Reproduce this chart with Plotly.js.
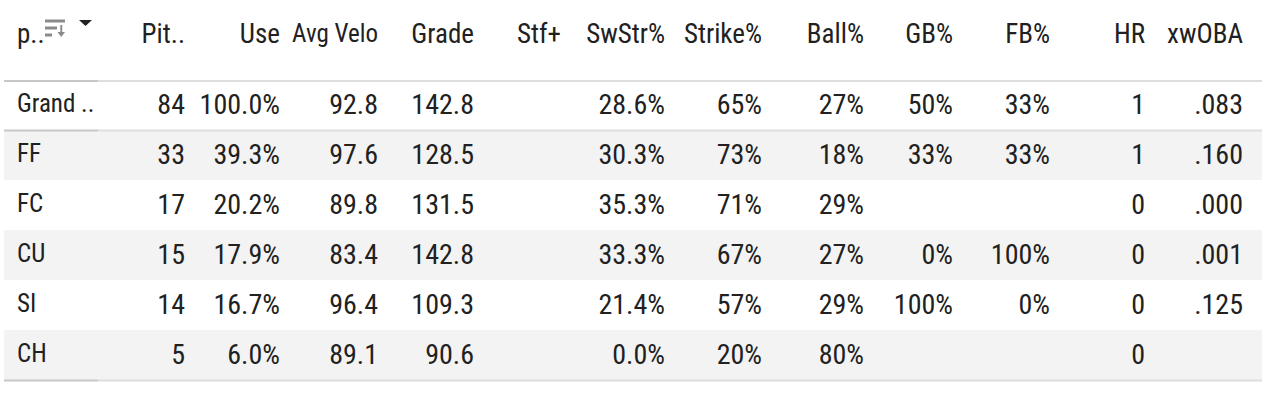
<!DOCTYPE html>
<html>
<head>
<meta charset="utf-8">
<script src="https://cdn.plot.ly/plotly-3.0.1.min.js"></script>
<style>html,body{margin:0;padding:0;background:#fff;}#chart{width:1262px;height:400px;}</style>
</head>
<body>
<div id="chart"></div>
<script>
// ---- data ----
const pitchTypes = ['Grand ..', 'FF', 'FC', 'CU', 'SI', 'CH'];
const pitches    = [84, 33, 17, 15, 14, 5];
const usePct     = [100.0, 39.3, 20.2, 17.9, 16.7, 6.0];
const avgVelo    = [92.8, 97.6, 89.8, 83.4, 96.4, 89.1];
const grade      = [142.8, 128.5, 131.5, 142.8, 109.3, 90.6];
const stuffPlus  = [null, null, null, null, null, null];
const swStrPct   = [28.6, 30.3, 35.3, 33.3, 21.4, 0.0];
const strikePct  = [65, 73, 71, 67, 57, 20];
const ballPct    = [27, 18, 29, 27, 29, 80];
const gbPct      = [50, 33, null, 0, 100, null];
const fbPct      = [33, 33, null, 100, 0, null];
const homeRuns   = [1, 1, 0, 0, 0, 0];
const xwOBA      = [0.083, 0.160, 0.000, 0.001, 0.125, null];
const headers = ['p..', 'Pit..', 'Use', 'Avg Velo', 'Grade', 'Stf+', 'SwStr%', 'Strike%', 'Ball%', 'GB%', 'FB%', 'HR', 'xwOBA'];

// ---- formatting helpers ----
const NB = '\u00a0';
const nb = s => String(s).replace(/ /g, NB);
const fmt = (arr, f) => arr.map(v => (v === null || v === undefined) ? '' : f(v));
const pct1 = v => v.toFixed(1) + '%';
const pct0 = v => v.toFixed(0) + '%';
const num1 = v => v.toFixed(1);
const int0 = v => String(v);
const woba = v => v.toFixed(3).replace(/^0/, '');

const columns = [
  pitchTypes.map(nb),
  fmt(pitches, int0),
  fmt(usePct, pct1),
  fmt(avgVelo, num1),
  fmt(grade, num1),
  fmt(stuffPlus, num1),
  fmt(swStrPct, pct1),
  fmt(strikePct, pct0),
  fmt(ballPct, pct0),
  fmt(gbPct, pct0),
  fmt(fbPct, pct0),
  fmt(homeRuns, int0),
  fmt(xwOBA, woba)
];

// ---- styles ----
const W = 1262, H = 400, TOP = 15;
const PX = x => x / W, PY = y => 1 - y / H;
const colEdges = [9, 98, 193, 288, 386, 482, 569, 673, 770, 872, 961, 1058, 1153, 1251];
const colWidths = colEdges.slice(1).map((e, i) => e - colEdges[i]);
const aligns = headers.map((_, i) => i === 0 ? 'left' : 'right');
const FONT = '"Roboto Condensed", Roboto, sans-serif';
const TEXT = '#212121';
const CLEAR = 'rgba(0,0,0,0)';
const headerSizes = headers.map(h => h === 'Avg Velo' ? 25 : 27);
const cellSizes = headers.map((_, i) => i === 0 ? 25 : 28);

const trace = {
  type: 'table',
  domain: {x: [PX(colEdges[0]), PX(colEdges[colEdges.length - 1])], y: [0, PY(TOP)]},
  columnwidth: colWidths,
  header: {
    values: headers.map(nb),
    align: aligns,
    height: 70,
    fill: {color: CLEAR},
    line: {width: 0, color: CLEAR},
    font: {family: FONT, size: headerSizes, color: TEXT}
  },
  cells: {
    values: columns,
    align: aligns,
    height: 50,
    fill: {color: CLEAR},
    line: {width: 0, color: CLEAR},
    font: {family: FONT, size: cellSizes, color: TEXT}
  }
};

// row stripes and separators (decoration)
const headerBottom = 80, rowH = 50;
const shapes = [];
pitchTypes.forEach((_, i) => {
  if (i % 2 === 1) {
    const y0 = headerBottom + rowH * i, y1 = y0 + rowH;
    shapes.push({type: 'rect', layer: 'below', xref: 'paper', yref: 'paper',
      x0: PX(4), x1: 1, y0: PY(y1), y1: PY(y0),
      fillcolor: '#f3f3f3', line: {width: 0}});
  }
});
[headerBottom + 1, headerBottom + rowH + 0.5, headerBottom + rowH * pitchTypes.length + 0.5].forEach(y => {
  shapes.push({type: 'line', xref: 'paper', yref: 'paper', x0: PX(4), x1: PX(98), y0: PY(y), y1: PY(y), line: {color: '#c8c8c8', width: 2}});
  shapes.push({type: 'line', xref: 'paper', yref: 'paper', x0: PX(98), x1: 1, y0: PY(y), y1: PY(y), line: {color: '#dedede', width: 2}});
});

// sort icon and menu caret next to the first header (UI decoration)
const ICON = '#8a8a8a';
const bar = (x0, x1, y0, y1) => ({type: 'rect', xref: 'paper', yref: 'paper', x0: PX(x0), x1: PX(x1), y0: PY(y1), y1: PY(y0), fillcolor: ICON, line: {width: 0}});
const poly = (pts, color) => ({type: 'path', xref: 'paper', yref: 'paper',
  path: 'M' + pts.map(p => PX(p[0]) + ',' + PY(p[1])).join(' L') + ' Z', fillcolor: color, line: {width: 0}});
shapes.push(bar(45, 65, 19.5, 22.5));
shapes.push(bar(45, 57, 26.5, 29.5));
shapes.push(bar(45, 52, 33.5, 36.5));
shapes.push(bar(60.3, 62.2, 25, 33));
shapes.push(poly([[57.5, 32], [65, 32], [61.25, 37]], ICON));
shapes.push(poly([[79, 20], [92, 20], [85.5, 26]], TEXT));

const layout = {
  width: W, height: H,
  margin: {l: 0, r: 0, t: 0, b: 0},
  paper_bgcolor: '#ffffff',
  showlegend: false,
  shapes: shapes
};

Plotly.newPlot('chart', [trace], layout, {displayModeBar: false, staticPlot: true});
</script>
</body>
</html>
